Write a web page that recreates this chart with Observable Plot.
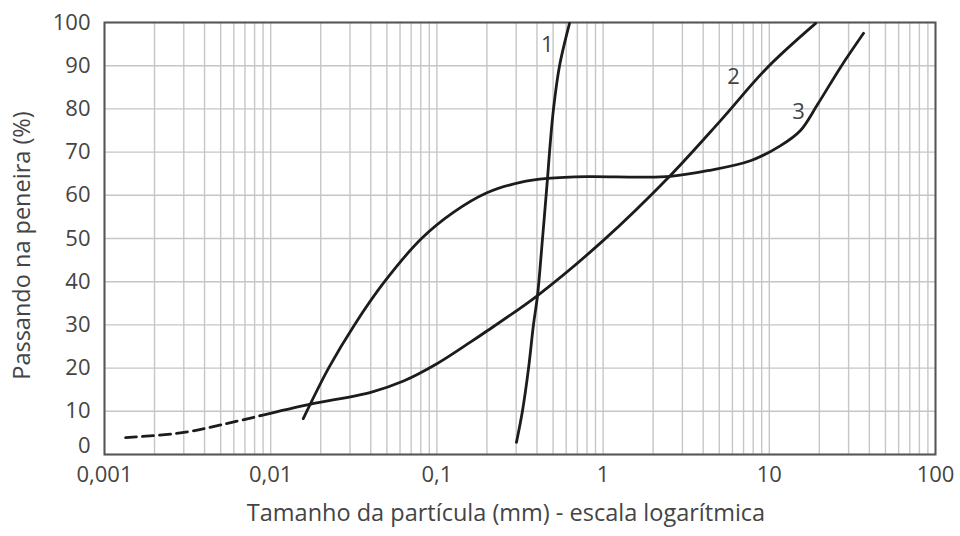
<!DOCTYPE html>
<html>
<head>
<meta charset="utf-8">
<script src="https://cdn.jsdelivr.net/npm/d3@7"></script>
<script src="https://cdn.jsdelivr.net/npm/@observablehq/plot@0.6"></script>
<style>
  html, body { margin: 0; padding: 0; background: #fff; }
  #chart { width: 960px; height: 536px; }
</style>
</head>
<body>
<div id="chart"></div>
<script>
// Tick labels / gridlines
const xTicks = [0.001, 0.01, 0.1, 1, 10, 100];
const yTicks = [0, 10, 20, 30, 40, 50, 60, 70, 80, 90, 100];
const gridMultipliers = [1, 2, 3, 4, 5, 6, 7, 8, 9];
const xTitle = "Tamanho da partícula (mm) - escala logarítmica";
const yTitle = "Passando na peneira (%)";

// Curve 1 (diameter mm, % passing)
const curve1 = [
  [0.301, 2.8], [0.327, 10], [0.356, 20], [0.381, 30], [0.403, 36.8],
  [0.432, 50], [0.463, 63.9], [0.476, 70], [0.503, 80], [0.547, 90], [0.628, 99.8]
];
// Curve 2 – dashed (extrapolated) part
const curve2Dashed = [
  [0.00134, 3.9], [0.003, 5.1], [0.0055, 7.2], [0.0087, 9]
];
// Curve 2 – solid part
const curve2 = [
  [0.0087, 9], [0.0171, 11.6], [0.04, 14.4], [0.063, 17], [0.1, 21],
  [0.159, 26], [0.202, 28.7], [0.403, 36.8], [1.0, 49.5], [2.54, 64.6],
  [5.09, 77.3], [9.75, 89.6], [19.0, 99.8]
];
// Curve 3
const curve3 = [
  [0.0157, 8.3], [0.0223, 20], [0.0319, 30], [0.0484, 40], [0.0808, 50],
  [0.125, 56], [0.2, 60.6], [0.318, 63], [0.463, 63.9], [0.806, 64.3],
  [1.68, 64.2], [2.55, 64.4], [4.25, 65.7], [7.7, 68], [11.7, 71.5],
  [15.4, 75], [19.5, 81], [26.8, 89.6], [36.9, 97.5]
];
// Curve labels
const curveLabels = [
  {name: "1", d: 0.462, p: 94.7},
  {name: "2", d: 6.09, p: 87.3},
  {name: "3", d: 15.0, p: 79.4}
];

const xGrid = [];
for (const e of [0.001, 0.01, 0.1, 1, 10]) for (const m of gridMultipliers) xGrid.push(+(m * e).toPrecision(3));
xGrid.push(100);

const fmt = d => String(d).replace(".", ",");
const lineStyle = {x: d => d[0], y: d => d[1], curve: "catmull-rom", stroke: "#1c1c1c", strokeWidth: 2.8};
const textColor = "#444";

const chart = Plot.plot({
  width: 960,
  height: 536,
  marginLeft: 104,
  marginRight: 25,
  marginTop: 22,
  marginBottom: 82,
  x: {type: "log", domain: [0.001, 100]},
  y: {domain: [0, 100]},
  style: {fontFamily: "'Open Sans', sans-serif", background: "white", color: textColor},
  marks: [
    Plot.gridX(xGrid, {stroke: "#c6c6c6", strokeOpacity: 1, strokeWidth: 1.4}),
    Plot.gridY(yTicks, {stroke: "#c6c6c6", strokeOpacity: 1, strokeWidth: 1.4}),
    Plot.frame({stroke: "#555", strokeWidth: 2}),
    Plot.axisX(xTicks, {tickSize: 0, tickPadding: 12, tickFormat: fmt, fontSize: 22, fill: textColor, label: null}),
    Plot.axisY(yTicks.filter(d => d > 0), {tickSize: 0, tickPadding: 14, fontSize: 22, fill: textColor, label: null}),
    Plot.axisY([0], {tickSize: 0, tickPadding: 14, fontSize: 22, fill: textColor, dy: -9, label: null}),
    Plot.text([xTitle], {frameAnchor: "bottom", dx: -14, dy: 66, fontSize: 23.5, fill: textColor}),
    Plot.text([yTitle], {frameAnchor: "left", textAnchor: "middle", dx: -82, dy: 7, rotate: -90, fontSize: 23.5, fill: textColor}),
    Plot.line(curve2Dashed, {...lineStyle, strokeDasharray: "11,6"}),
    Plot.line(curve2, lineStyle),
    Plot.line(curve3, lineStyle),
    Plot.line(curve1, lineStyle),
    Plot.text(curveLabels, {x: "d", y: "p", text: "name", fontSize: 22, fill: textColor})
  ]
});
document.getElementById("chart").appendChild(chart);
</script>
</body>
</html>
